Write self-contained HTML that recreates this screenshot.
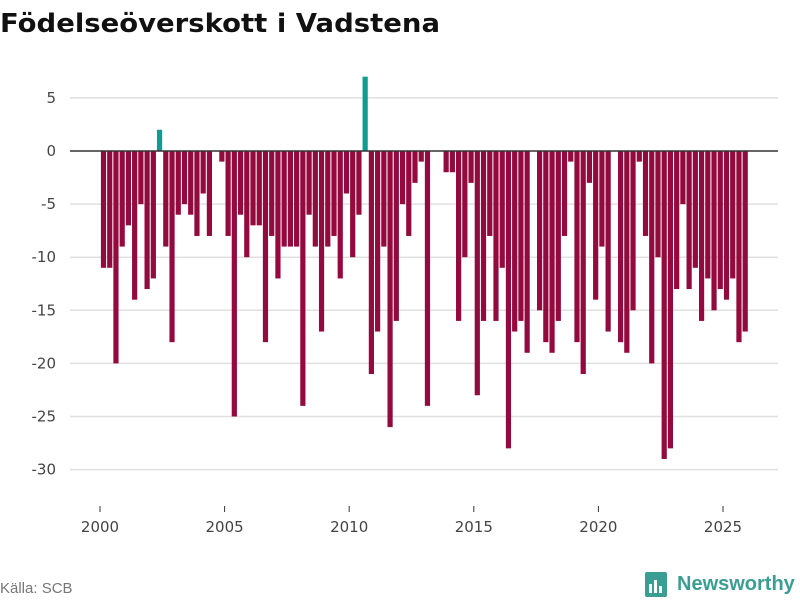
<!DOCTYPE html>
<html><head><meta charset="utf-8"><style>
body{margin:0;background:#fff;width:800px;height:600px;overflow:hidden;font-family:"Liberation Sans",sans-serif}
</style></head><body>
<svg id="chart" width="800" height="600" xmlns="http://www.w3.org/2000/svg">
<text x="0" y="32" font-size="26" font-weight="bold" fill="#111" font-family="DejaVu Sans, sans-serif" textLength="440" lengthAdjust="spacingAndGlyphs">Födelseöverskott i Vadstena</text>
<g id="grid"></g><g id="bars"></g><g id="axes"></g>
<text x="0" y="593" font-size="15" fill="#777">Källa: SCB</text>
<g>
<rect x="645" y="572" width="22" height="25" rx="2" fill="#3a9e92"/>
<rect x="649" y="584" width="3" height="9" fill="#fff"/><rect x="654" y="580" width="3" height="13" fill="#fff"/><rect x="659" y="586" width="3" height="7" fill="#fff"/>
<text x="677" y="590" font-size="20" font-weight="bold" fill="#3a9e92">Newsworthy</text>
</g>
</svg>
<script>
const values=[-11,-11,-20,-9,-7,-14,-5,-13,-12,2,-9,-18,-6,-5,-6,-8,-4,-8,0,-1,-8,-25,-6,-10,-7,-7,-18,-8,-12,-9,-9,-9,-24,-6,-9,-17,
-9,-8,-12,-4,-10,-6,7,-21,-17,-9,-26,-16,-5,-8,-3,-1,-24,0,0,-2,-2,-16,-10,-3,-23,-16,-8,-16,-11,-28,-17,-16,-19,0,
-15,-18,-19,-16,-8,-1,-18,-21,-3,-14,-9,-17,0,-18,-19,-15,-1,-8,-20,-10,-29,-28,-13,-5,-13,-11,-16,-12,-15,-13,-14,-12,-18,-17];
const startYear=2000;
const yTicks=[5,0,-5,-10,-15,-20,-25,-30];
const xTicks=[2000,2005,2010,2015,2020,2025];
const NS="http://www.w3.org/2000/svg";
function y(v){return 151-v*10.62;}
function x(t){return 100+(t-2000)*24.92;}
const grid=document.getElementById('grid'),bars=document.getElementById('bars'),axes=document.getElementById('axes');
function mk(tag,attrs,parent){const e=document.createElementNS(NS,tag);for(const k in attrs)e.setAttribute(k,attrs[k]);parent.appendChild(e);return e;}
yTicks.forEach(v=>{
 if(v!==0){const l=mk('line',{x1:70,x2:778,y1:y(v),y2:y(v),stroke:'#e0e0e0','stroke-width':1.5},grid);
 
 }
 const t=mk('text',{x:56,y:y(v)+5,'text-anchor':'end','font-size':15,fill:'#444','font-family':'DejaVu Sans, sans-serif'},axes);
 
 
 t.textContent=v;
});
values.forEach((v,i)=>{
 if(v===0)return;
 const cx=x(startYear+i/4)+3.5;
 const r=mk('rect',{x:cx-2.6,width:5.2,y:Math.min(y(0),y(v)),height:Math.abs(y(v)-y(0)),fill:v>0?'#0e9c8f':'#930a3e'},bars);
 
 
});
const z=mk('line',{x1:70,x2:778,y1:y(0),y2:y(0),stroke:'#333','stroke-width':1.5},axes);


xTicks.forEach(yr=>{
 const tk=mk('line',{x1:x(yr),x2:x(yr),y1:506,y2:512,stroke:'#333','stroke-width':1},axes);
 
 
 const t=mk('text',{x:x(yr),y:532,'text-anchor':'middle','font-size':15,fill:'#444','font-family':'DejaVu Sans, sans-serif'},axes);
 
 
 t.textContent=yr;
});
</script>
</body></html>
